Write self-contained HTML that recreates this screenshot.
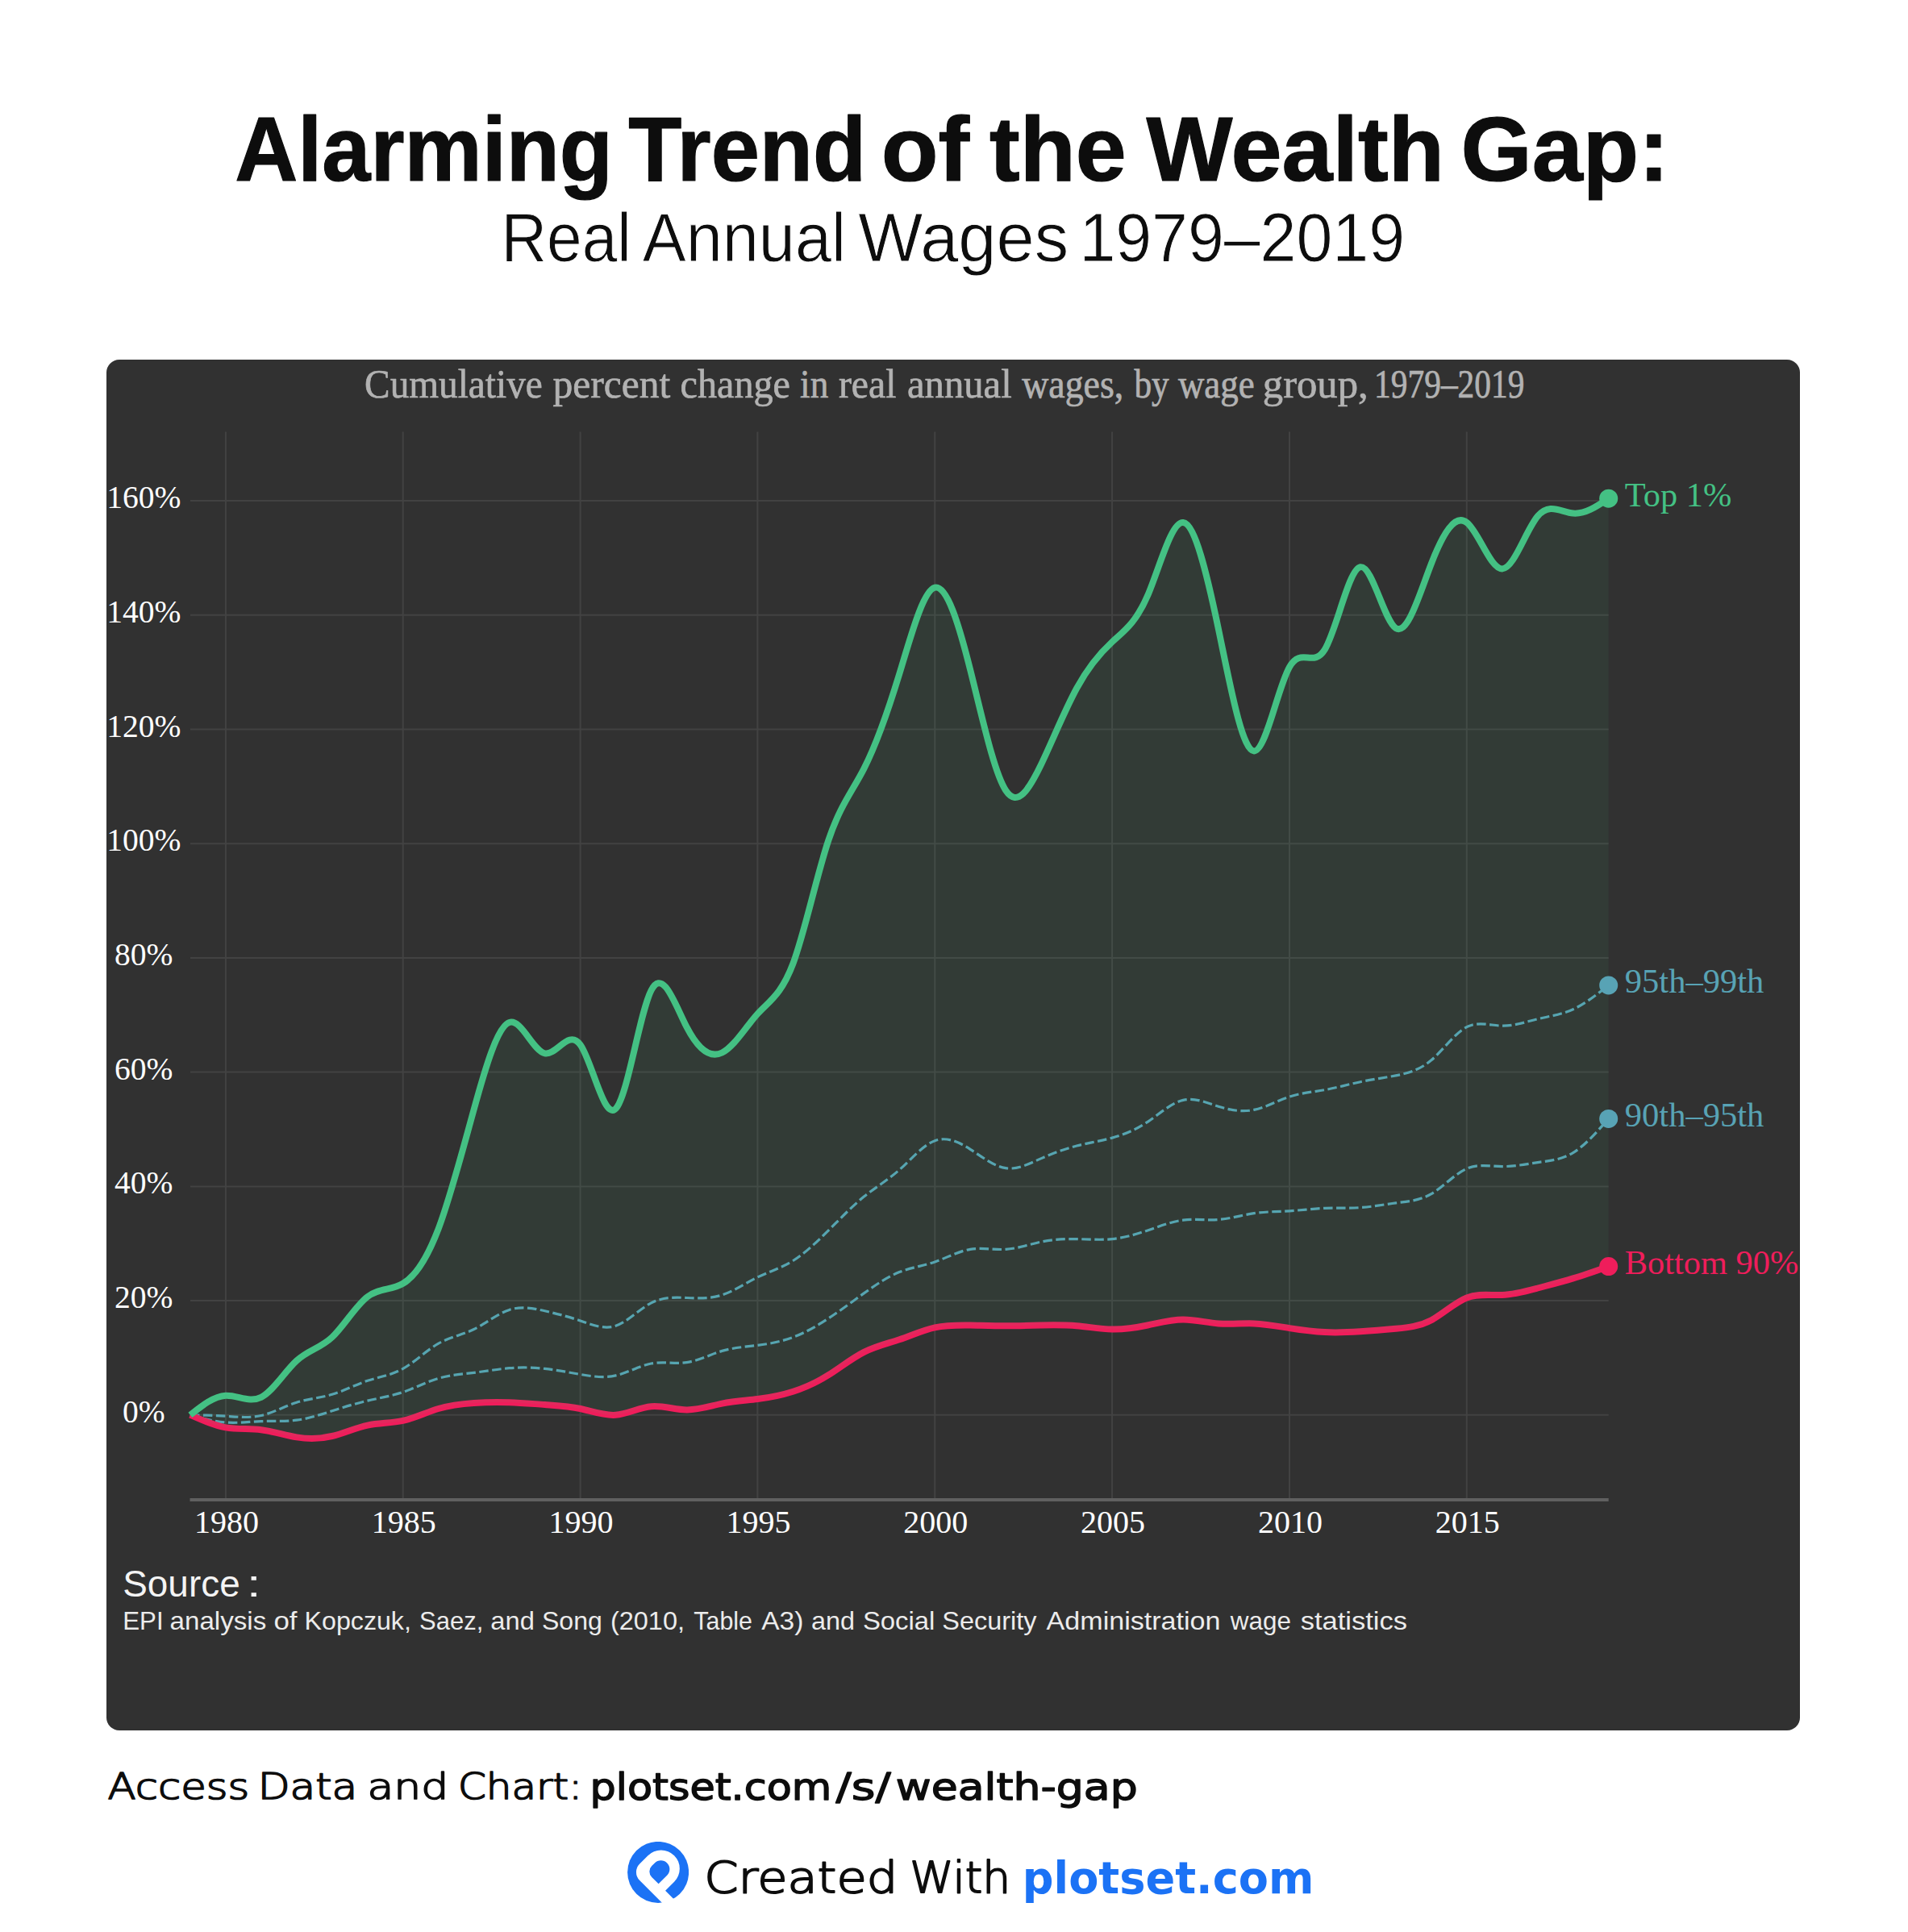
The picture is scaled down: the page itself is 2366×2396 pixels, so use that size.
<!DOCTYPE html>
<html lang="en"><head><meta charset="utf-8"><title>Alarming Trend of the Wealth Gap</title>
<style>
html,body{margin:0;padding:0;background:#fff;}
body{width:2366px;height:2396px;overflow:hidden;position:relative;}
svg{position:absolute;left:0;top:0;display:block;}
.sans{font-family:"Liberation Sans",sans-serif;}
.dj{font-family:"DejaVu Sans","Liberation Sans",sans-serif;}
.djl{font-family:"DejaVu Sans Light","DejaVu Sans","Liberation Sans",sans-serif;font-weight:200;}
.serif{font-family:"Liberation Serif",serif;}
</style></head><body>
<svg width="2366" height="2396" viewBox="0 0 2366 2396">
<rect width="2366" height="2396" fill="#ffffff"/>
<text class="sans" y="223.6" font-size="113" font-weight="700" fill="#0d0d0d" stroke="#0d0d0d" stroke-width="1.2" stroke-linejoin="round"><tspan x="291.2" textLength="468.6" lengthAdjust="spacingAndGlyphs">Alarming</tspan> <tspan x="779.3" textLength="294.9" lengthAdjust="spacingAndGlyphs">Trend</tspan> <tspan x="1092.7" textLength="109.4" lengthAdjust="spacingAndGlyphs">of</tspan> <tspan x="1227.1" textLength="169.6" lengthAdjust="spacingAndGlyphs">the</tspan> <tspan x="1421.6" textLength="369.3" lengthAdjust="spacingAndGlyphs">Wealth</tspan> <tspan x="1811.5" textLength="258.3" lengthAdjust="spacingAndGlyphs">Gap:</tspan></text>
<text class="sans" y="324.2" font-size="85.5" fill="#0d0d0d" stroke="#ffffff" stroke-width="0.9"><tspan x="621.4" textLength="161.3" lengthAdjust="spacingAndGlyphs">Real</tspan> <tspan x="796.8" textLength="252.1" lengthAdjust="spacingAndGlyphs">Annual</tspan> <tspan x="1064.3" textLength="260.8" lengthAdjust="spacingAndGlyphs">Wages</tspan> <tspan x="1338.4" textLength="403.6" lengthAdjust="spacingAndGlyphs">1979–2019</tspan></text>
<rect x="132" y="446" width="2100" height="1700" rx="16" ry="16" fill="#313131"/>
<text class="serif" y="493.2" font-size="50" fill="#b2b2b2" stroke="#b2b2b2" stroke-width="0.7" stroke-linejoin="round"><tspan x="452.1" textLength="220.7" lengthAdjust="spacingAndGlyphs">Cumulative</tspan> <tspan x="685.6" textLength="145.8" lengthAdjust="spacingAndGlyphs">percent</tspan> <tspan x="843.6" textLength="136.4" lengthAdjust="spacingAndGlyphs">change</tspan> <tspan x="992.1" textLength="35.2" lengthAdjust="spacingAndGlyphs">in</tspan> <tspan x="1039.9" textLength="71.6" lengthAdjust="spacingAndGlyphs">real</tspan> <tspan x="1124.9" textLength="129.9" lengthAdjust="spacingAndGlyphs">annual</tspan> <tspan x="1267.2" textLength="126.1" lengthAdjust="spacingAndGlyphs">wages,</tspan> <tspan x="1406.4" textLength="43.3" lengthAdjust="spacingAndGlyphs">by</tspan> <tspan x="1460.9" textLength="94.7" lengthAdjust="spacingAndGlyphs">wage</tspan> <tspan x="1565.8" textLength="130.9" lengthAdjust="spacingAndGlyphs">group,</tspan> <tspan x="1704.1" textLength="186.3" lengthAdjust="spacingAndGlyphs">1979–2019</tspan></text>
<path d="M279.9 535.5V1858M499.7 535.5V1858M719.6 535.5V1858M939.4 535.5V1858M1159.3 535.5V1858M1379.1 535.5V1858M1599.0 535.5V1858M1818.8 535.5V1858M236 1754.8H1994.7M236 1613.1H1994.7M236 1471.4H1994.7M236 1329.6H1994.7M236 1187.9H1994.7M236 1046.2H1994.7M236 904.5H1994.7M236 762.8H1994.7M236 621.0H1994.7" stroke="#ffffff" stroke-opacity="0.085" stroke-width="2" fill="none"/>
<path d="M235.5 1860H1994.7" stroke="#606060" stroke-width="4" fill="none"/>
<g class="serif" font-size="39.5" fill="#ffffff" text-anchor="middle"><text x="178.3" y="1763.8">0%</text><text x="178.3" y="1622.1">20%</text><text x="178.3" y="1480.4">40%</text><text x="178.3" y="1338.6">60%</text><text x="178.3" y="1196.9">80%</text><text x="178.3" y="1055.2">100%</text><text x="178.3" y="913.5">120%</text><text x="178.3" y="771.8">140%</text><text x="178.3" y="630.0">160%</text></g>
<g class="serif" font-size="40" fill="#ffffff" text-anchor="middle"><text x="280.9" y="1900.8">1980</text><text x="500.7" y="1900.8">1985</text><text x="720.6" y="1900.8">1990</text><text x="940.4" y="1900.8">1995</text><text x="1160.3" y="1900.8">2000</text><text x="1380.1" y="1900.8">2005</text><text x="1600.0" y="1900.8">2010</text><text x="1819.8" y="1900.8">2015</text></g>
<path d="M235.9 1754.8C250.6 1758.9 265.2 1763.0 279.9 1764.0C294.5 1765.1 309.2 1763.1 323.8 1762.6C338.5 1762.1 353.2 1763.1 367.8 1761.2C382.5 1759.3 397.1 1754.5 411.8 1749.8C426.4 1745.1 441.1 1740.5 455.8 1737.1C470.4 1733.7 485.1 1731.4 499.7 1726.5C514.4 1721.5 529.0 1713.8 543.7 1709.4C558.3 1705.1 573.0 1704.2 587.7 1702.4C602.3 1700.6 617.0 1697.9 631.6 1696.7C646.3 1695.5 660.9 1695.8 675.6 1697.4C690.3 1699.0 704.9 1701.9 719.6 1704.5C734.2 1707.0 748.9 1709.2 763.5 1705.9C778.2 1702.6 792.9 1693.7 807.5 1691.0C822.2 1688.3 836.8 1691.7 851.5 1689.6C866.1 1687.5 880.8 1679.8 895.4 1675.4C910.1 1671.1 924.8 1670.2 939.4 1668.4C954.1 1666.5 968.7 1663.9 983.4 1658.4C998.0 1653.0 1012.7 1644.7 1027.4 1635.0C1042.0 1625.4 1056.7 1614.3 1071.3 1603.9C1086.0 1593.4 1100.6 1583.5 1115.3 1577.6C1130.0 1571.8 1144.6 1569.9 1159.3 1564.9C1173.9 1559.9 1188.6 1551.7 1203.2 1549.3C1217.9 1546.9 1232.6 1550.3 1247.2 1549.3C1261.9 1548.4 1276.5 1543.1 1291.2 1540.1C1305.8 1537.1 1320.5 1536.3 1335.2 1536.6C1349.8 1536.8 1364.5 1538.0 1379.1 1536.6C1393.8 1535.1 1408.4 1530.9 1423.1 1525.9C1437.7 1520.9 1452.4 1515.0 1467.1 1513.2C1481.7 1511.3 1496.4 1513.6 1511.0 1512.5C1525.7 1511.3 1540.3 1506.8 1555.0 1504.7C1569.7 1502.5 1584.3 1502.7 1599.0 1501.8C1613.6 1500.9 1628.3 1498.9 1642.9 1498.3C1657.6 1497.7 1672.3 1498.6 1686.9 1497.6C1701.6 1496.6 1716.2 1493.8 1730.9 1491.9C1745.5 1490.0 1760.2 1489.1 1774.9 1480.6C1789.5 1472.0 1804.2 1455.8 1818.8 1449.4C1833.5 1443.0 1848.1 1446.4 1862.8 1446.6C1877.4 1446.7 1892.1 1443.7 1906.8 1441.6C1921.4 1439.5 1936.1 1438.4 1950.7 1429.6C1965.4 1420.7 1980.0 1404.0 1994.7 1387.4" fill="none" stroke="#58a3b5" stroke-width="3.2" stroke-dasharray="11.5 4.5"/>
<path d="M235.9 1754.8C250.6 1755.0 265.2 1755.3 279.9 1756.2C294.5 1757.2 309.2 1758.8 323.8 1755.5C338.5 1752.2 353.2 1743.8 367.8 1739.2C382.5 1734.6 397.1 1733.7 411.8 1729.3C426.4 1724.9 441.1 1717.1 455.8 1712.3C470.4 1707.5 485.1 1705.6 499.7 1697.4C514.4 1689.2 529.0 1674.6 543.7 1666.2C558.3 1657.9 573.0 1655.7 587.7 1648.5C602.3 1641.3 617.0 1629.1 631.6 1624.4C646.3 1619.7 660.9 1622.5 675.6 1625.8C690.3 1629.1 704.9 1632.9 719.6 1637.9C734.2 1642.9 748.9 1649.1 763.5 1644.3C778.2 1639.4 792.9 1623.5 807.5 1615.9C822.2 1608.3 836.8 1608.9 851.5 1609.5C866.1 1610.1 880.8 1610.7 895.4 1606.0C910.1 1601.3 924.8 1591.2 939.4 1584.0C954.1 1576.9 968.7 1572.6 983.4 1563.5C998.0 1554.4 1012.7 1540.5 1027.4 1525.9C1042.0 1511.3 1056.7 1496.0 1071.3 1484.1C1086.0 1472.2 1100.6 1463.8 1115.3 1450.8C1130.0 1437.8 1144.6 1420.1 1159.3 1414.7C1173.9 1409.2 1188.6 1416.0 1203.2 1425.3C1217.9 1434.6 1232.6 1446.6 1247.2 1448.7C1261.9 1450.8 1276.5 1443.1 1291.2 1436.6C1305.8 1430.1 1320.5 1424.8 1335.2 1421.0C1349.8 1417.3 1364.5 1415.2 1379.1 1411.1C1393.8 1407.1 1408.4 1401.1 1423.1 1391.3C1437.7 1381.5 1452.4 1367.8 1467.1 1364.4C1481.7 1360.9 1496.4 1367.5 1511.0 1372.2C1525.7 1376.8 1540.3 1379.4 1555.0 1376.4C1569.7 1373.4 1584.3 1364.9 1599.0 1360.1C1613.6 1355.3 1628.3 1354.2 1642.9 1351.6C1657.6 1349.0 1672.3 1344.7 1686.9 1341.7C1701.6 1338.6 1716.2 1336.7 1730.9 1333.9C1745.5 1331.0 1760.2 1327.2 1774.9 1314.8C1789.5 1302.3 1804.2 1281.3 1818.8 1273.7C1833.5 1266.1 1848.1 1271.9 1862.8 1272.2C1877.4 1272.5 1892.1 1267.3 1906.8 1263.7C1921.4 1260.2 1936.1 1258.4 1950.7 1251.7C1965.4 1245.0 1980.0 1233.5 1994.7 1221.9" fill="none" stroke="#58a3b5" stroke-width="3.2" stroke-dasharray="11.5 4.5"/>
<path d="M235.9 1754.8C250.6 1761.3 265.2 1767.9 279.9 1770.4C294.5 1772.9 309.2 1771.4 323.8 1773.2C338.5 1775.0 353.2 1780.0 367.8 1782.4C382.5 1784.8 397.1 1784.6 411.8 1781.0C426.4 1777.5 441.1 1770.6 455.8 1767.6C470.4 1764.5 485.1 1765.1 499.7 1761.9C514.4 1758.6 529.0 1751.4 543.7 1747.0C558.3 1742.6 573.0 1740.9 587.7 1739.9C602.3 1738.9 617.0 1738.7 631.6 1739.2C646.3 1739.7 660.9 1741.0 675.6 1742.0C690.3 1743.1 704.9 1743.8 719.6 1747.0C734.2 1750.2 748.9 1756.0 763.5 1754.8C778.2 1753.6 792.9 1745.5 807.5 1744.2C822.2 1742.8 836.8 1748.2 851.5 1748.4C866.1 1748.6 880.8 1743.6 895.4 1740.6C910.1 1737.7 924.8 1736.8 939.4 1735.0C954.1 1733.2 968.7 1730.4 983.4 1725.7C998.0 1721.1 1012.7 1714.4 1027.4 1705.2C1042.0 1696.0 1056.7 1684.3 1071.3 1676.9C1086.0 1669.4 1100.6 1666.2 1115.3 1661.3C1130.0 1656.3 1144.6 1649.6 1159.3 1646.4C1173.9 1643.1 1188.6 1643.3 1203.2 1643.5C1217.9 1643.8 1232.6 1644.3 1247.2 1644.3C1261.9 1644.3 1276.5 1643.9 1291.2 1643.5C1305.8 1643.2 1320.5 1643.0 1335.2 1644.3C1349.8 1645.5 1364.5 1648.2 1379.1 1648.5C1393.8 1648.8 1408.4 1646.6 1423.1 1643.5C1437.7 1640.5 1452.4 1636.5 1467.1 1636.5C1481.7 1636.4 1496.4 1640.3 1511.0 1641.4C1525.7 1642.5 1540.3 1640.9 1555.0 1641.4C1569.7 1642.0 1584.3 1644.7 1599.0 1647.1C1613.6 1649.4 1628.3 1651.4 1642.9 1652.1C1657.6 1652.8 1672.3 1652.2 1686.9 1651.3C1701.6 1650.4 1716.2 1649.2 1730.9 1647.8C1745.5 1646.4 1760.2 1645.0 1774.9 1637.2C1789.5 1629.4 1804.2 1615.2 1818.8 1609.5C1833.5 1603.8 1848.1 1606.6 1862.8 1606.0C1877.4 1605.4 1892.1 1601.4 1906.8 1597.5C1921.4 1593.6 1936.1 1589.9 1950.7 1585.4C1965.4 1581.0 1980.0 1575.8 1994.7 1570.6" fill="none" stroke="#ef1d5b" stroke-width="8" stroke-linecap="butt"/>
<path d="M235.9 1754.8C250.6 1743.1 265.2 1731.5 279.9 1730.7C294.5 1730.0 309.2 1740.1 323.8 1732.8C338.5 1725.6 353.2 1700.8 367.8 1687.5C382.5 1674.1 397.1 1672.2 411.8 1658.4C426.4 1644.7 441.1 1619.2 455.8 1608.1C470.4 1597.1 485.1 1600.5 499.7 1591.8C514.4 1583.2 529.0 1562.4 543.7 1523.8C558.3 1485.2 573.0 1428.8 587.7 1375.7C602.3 1322.6 617.0 1272.9 631.6 1268.0C646.3 1263.1 660.9 1303.1 675.6 1306.3C690.3 1309.4 704.9 1275.6 719.6 1295.6C734.2 1315.7 748.9 1389.7 763.5 1375.0C778.2 1360.3 792.9 1257.0 807.5 1228.3C822.2 1199.6 836.8 1245.4 851.5 1273.7C866.1 1301.9 880.8 1312.7 895.4 1305.5C910.1 1298.4 924.8 1273.5 939.4 1257.4C954.1 1241.2 968.7 1234.0 983.4 1195.0C998.0 1156.1 1012.7 1085.5 1027.4 1041.9C1042.0 998.4 1056.7 982.0 1071.3 953.4C1086.0 924.7 1100.6 883.8 1115.3 835.7C1130.0 787.7 1144.6 732.5 1159.3 728.7C1173.9 725.0 1188.6 772.5 1203.2 830.8C1217.9 889.0 1232.6 958.0 1247.2 980.3C1261.9 1002.6 1276.5 978.3 1291.2 947.7C1305.8 917.1 1320.5 880.4 1335.2 853.5C1349.8 826.6 1364.5 809.5 1379.1 796.1C1393.8 782.6 1408.4 772.7 1423.1 738.7C1437.7 704.7 1452.4 646.6 1467.1 648.0C1481.7 649.3 1496.4 710.1 1511.0 780.5C1525.7 850.9 1540.3 930.9 1555.0 931.4C1569.7 931.9 1584.3 852.9 1599.0 827.2C1613.6 801.5 1628.3 829.1 1642.9 805.3C1657.6 781.4 1672.3 706.1 1686.9 703.2C1701.6 700.4 1716.2 769.9 1730.9 779.1C1745.5 788.2 1760.2 736.8 1774.9 699.0C1789.5 661.1 1804.2 636.8 1818.8 648.0C1833.5 659.1 1848.1 705.7 1862.8 705.4C1877.4 705.0 1892.1 657.6 1906.8 640.2C1921.4 622.8 1936.1 635.3 1950.7 636.6C1965.4 638.0 1980.0 628.1 1994.7 618.2" fill="none" stroke="#44c184" stroke-width="8" stroke-linecap="butt"/>
<path d="M235.9 1754.8C250.6 1743.1 265.2 1731.5 279.9 1730.7C294.5 1730.0 309.2 1740.1 323.8 1732.8C338.5 1725.6 353.2 1700.8 367.8 1687.5C382.5 1674.1 397.1 1672.2 411.8 1658.4C426.4 1644.7 441.1 1619.2 455.8 1608.1C470.4 1597.1 485.1 1600.5 499.7 1591.8C514.4 1583.2 529.0 1562.4 543.7 1523.8C558.3 1485.2 573.0 1428.8 587.7 1375.7C602.3 1322.6 617.0 1272.9 631.6 1268.0C646.3 1263.1 660.9 1303.1 675.6 1306.3C690.3 1309.4 704.9 1275.6 719.6 1295.6C734.2 1315.7 748.9 1389.7 763.5 1375.0C778.2 1360.3 792.9 1257.0 807.5 1228.3C822.2 1199.6 836.8 1245.4 851.5 1273.7C866.1 1301.9 880.8 1312.7 895.4 1305.5C910.1 1298.4 924.8 1273.5 939.4 1257.4C954.1 1241.2 968.7 1234.0 983.4 1195.0C998.0 1156.1 1012.7 1085.5 1027.4 1041.9C1042.0 998.4 1056.7 982.0 1071.3 953.4C1086.0 924.7 1100.6 883.8 1115.3 835.7C1130.0 787.7 1144.6 732.5 1159.3 728.7C1173.9 725.0 1188.6 772.5 1203.2 830.8C1217.9 889.0 1232.6 958.0 1247.2 980.3C1261.9 1002.6 1276.5 978.3 1291.2 947.7C1305.8 917.1 1320.5 880.4 1335.2 853.5C1349.8 826.6 1364.5 809.5 1379.1 796.1C1393.8 782.6 1408.4 772.7 1423.1 738.7C1437.7 704.7 1452.4 646.6 1467.1 648.0C1481.7 649.3 1496.4 710.1 1511.0 780.5C1525.7 850.9 1540.3 930.9 1555.0 931.4C1569.7 931.9 1584.3 852.9 1599.0 827.2C1613.6 801.5 1628.3 829.1 1642.9 805.3C1657.6 781.4 1672.3 706.1 1686.9 703.2C1701.6 700.4 1716.2 769.9 1730.9 779.1C1745.5 788.2 1760.2 736.8 1774.9 699.0C1789.5 661.1 1804.2 636.8 1818.8 648.0C1833.5 659.1 1848.1 705.7 1862.8 705.4C1877.4 705.0 1892.1 657.6 1906.8 640.2C1921.4 622.8 1936.1 635.3 1950.7 636.6C1965.4 638.0 1980.0 628.1 1994.7 618.2L1994.7 1570.6C1980.0 1575.8 1965.4 1581.0 1950.7 1585.4C1936.1 1589.9 1921.4 1593.6 1906.8 1597.5C1892.1 1601.4 1877.4 1605.4 1862.8 1606.0C1848.1 1606.6 1833.5 1603.8 1818.8 1609.5C1804.2 1615.2 1789.5 1629.4 1774.9 1637.2C1760.2 1645.0 1745.5 1646.4 1730.9 1647.8C1716.2 1649.2 1701.6 1650.4 1686.9 1651.3C1672.3 1652.2 1657.6 1652.8 1642.9 1652.1C1628.3 1651.4 1613.6 1649.4 1599.0 1647.1C1584.3 1644.7 1569.7 1642.0 1555.0 1641.4C1540.3 1640.9 1525.7 1642.5 1511.0 1641.4C1496.4 1640.3 1481.7 1636.4 1467.1 1636.5C1452.4 1636.5 1437.7 1640.5 1423.1 1643.5C1408.4 1646.6 1393.8 1648.8 1379.1 1648.5C1364.5 1648.2 1349.8 1645.5 1335.2 1644.3C1320.5 1643.0 1305.8 1643.2 1291.2 1643.5C1276.5 1643.9 1261.9 1644.3 1247.2 1644.3C1232.6 1644.3 1217.9 1643.8 1203.2 1643.5C1188.6 1643.3 1173.9 1643.1 1159.3 1646.4C1144.6 1649.6 1130.0 1656.3 1115.3 1661.3C1100.6 1666.2 1086.0 1669.4 1071.3 1676.9C1056.7 1684.3 1042.0 1696.0 1027.4 1705.2C1012.7 1714.4 998.0 1721.1 983.4 1725.7C968.7 1730.4 954.1 1733.2 939.4 1735.0C924.8 1736.8 910.1 1737.7 895.4 1740.6C880.8 1743.6 866.1 1748.6 851.5 1748.4C836.8 1748.2 822.2 1742.8 807.5 1744.2C792.9 1745.5 778.2 1753.6 763.5 1754.8C748.9 1756.0 734.2 1750.2 719.6 1747.0C704.9 1743.8 690.3 1743.1 675.6 1742.0C660.9 1741.0 646.3 1739.7 631.6 1739.2C617.0 1738.7 602.3 1738.9 587.7 1739.9C573.0 1740.9 558.3 1742.6 543.7 1747.0C529.0 1751.4 514.4 1758.6 499.7 1761.9C485.1 1765.1 470.4 1764.5 455.8 1767.6C441.1 1770.6 426.4 1777.5 411.8 1781.0C397.1 1784.6 382.5 1784.8 367.8 1782.4C353.2 1780.0 338.5 1775.0 323.8 1773.2C309.2 1771.4 294.5 1772.9 279.9 1770.4C265.2 1767.9 250.6 1761.3 235.9 1754.8Z" fill="#44c184" fill-opacity="0.07"/>
<circle cx="1994.7" cy="618.2" r="11.5" fill="#44c184"/><text class="serif" x="2014.8" y="627.6" font-size="42" fill="#44c184" textLength="132.5" lengthAdjust="spacingAndGlyphs">Top 1%</text>
<circle cx="1994.7" cy="1221.9" r="11.5" fill="#58a3b5"/><text class="serif" x="2014.8" y="1231.3" font-size="42" fill="#58a3b5" textLength="172.5" lengthAdjust="spacingAndGlyphs">95th–99th</text>
<circle cx="1994.7" cy="1387.4" r="11.5" fill="#58a3b5"/><text class="serif" x="2014.8" y="1396.8" font-size="42" fill="#58a3b5" textLength="172.5" lengthAdjust="spacingAndGlyphs">90th–95th</text>
<circle cx="1994.7" cy="1570.6" r="11.5" fill="#ef1d5b"/><text class="serif" x="2014.8" y="1580.0" font-size="42" fill="#ef1d5b" textLength="215.5" lengthAdjust="spacingAndGlyphs">Bottom 90%</text>
<text class="sans" y="1979.6" font-size="45.5" fill="#f4f4f4"><tspan x="152.2" textLength="145.5" lengthAdjust="spacingAndGlyphs">Source</tspan> <tspan x="305.7" textLength="18.0" lengthAdjust="spacingAndGlyphs">:</tspan></text>
<text class="sans" y="2021.3" font-size="31.5" fill="#ececec"><tspan x="152.2" textLength="50.4" lengthAdjust="spacingAndGlyphs">EPI</tspan> <tspan x="210.6" textLength="119.7" lengthAdjust="spacingAndGlyphs">analysis</tspan> <tspan x="339.4" textLength="29.1" lengthAdjust="spacingAndGlyphs">of</tspan> <tspan x="377.6" textLength="132.3" lengthAdjust="spacingAndGlyphs">Kopczuk,</tspan> <tspan x="520.1" textLength="79.2" lengthAdjust="spacingAndGlyphs">Saez,</tspan> <tspan x="608.3" textLength="54.5" lengthAdjust="spacingAndGlyphs">and</tspan> <tspan x="672.0" textLength="74.8" lengthAdjust="spacingAndGlyphs">Song</tspan> <tspan x="756.9" textLength="92.1" lengthAdjust="spacingAndGlyphs">(2010,</tspan> <tspan x="860.3" textLength="72.7" lengthAdjust="spacingAndGlyphs">Table</tspan> <tspan x="944.2" textLength="52.1" lengthAdjust="spacingAndGlyphs">A3)</tspan> <tspan x="1006.1" textLength="54.0" lengthAdjust="spacingAndGlyphs">and</tspan> <tspan x="1069.9" textLength="89.5" lengthAdjust="spacingAndGlyphs">Social</tspan> <tspan x="1168.3" textLength="117.1" lengthAdjust="spacingAndGlyphs">Security</tspan> <tspan x="1297.6" textLength="215.9" lengthAdjust="spacingAndGlyphs">Administration</tspan> <tspan x="1525.7" textLength="75.2" lengthAdjust="spacingAndGlyphs">wage</tspan> <tspan x="1612.7" textLength="132.3" lengthAdjust="spacingAndGlyphs">statistics</tspan></text>
<text class="djl" y="2230.6" font-size="44.5" font-weight="200" fill="#0d0d0d" stroke="#0d0d0d" stroke-width="1.7" stroke-linejoin="round"><tspan x="133.6" textLength="175.6" lengthAdjust="spacingAndGlyphs">Access</tspan> <tspan x="319.7" textLength="123.5" lengthAdjust="spacingAndGlyphs">Data</tspan> <tspan x="455.4" textLength="100.9" lengthAdjust="spacingAndGlyphs">and</tspan> <tspan x="568.0" textLength="154.0" lengthAdjust="spacingAndGlyphs">Chart:</tspan></text>
<text class="dj" y="2231.5" font-size="46.5" fill="#0d0d0d" stroke="#0d0d0d" stroke-width="1.4" stroke-linejoin="round"><tspan x="731.6" textLength="299.6" lengthAdjust="spacingAndGlyphs">plotset.com</tspan> <tspan x="1036.5" textLength="68.1" lengthAdjust="spacingAndGlyphs">/s/</tspan> <tspan x="1110.8" textLength="299.9" lengthAdjust="spacingAndGlyphs">wealth-gap</tspan></text>
<svg x="778.1" y="2283.9" width="76" height="76" viewBox="155 170 1450 1450">
<circle cx="880" cy="895" r="725" fill="#1b72f5"/>
<path fill="#ffffff" d="M443 695L639 499A440 440 0 0 1 1261 499A440 440 0 0 1 1261 1121L1051 1331L1400 1680L1100 1745L443 1088A278 278 0 0 1 443 695Z"/>
<path fill="#1b72f5" d="M890 1170L729.7 1009.7A187 187 0 0 1 729.7 745.3L799 675.6A207 207 0 0 1 1092 675.6A207 207 0 0 1 1092 968.4Z"/>
</svg>
<text class="djl" y="2347" font-size="53.5" font-weight="200" fill="#0d0d0d" stroke="#0d0d0d" stroke-width="1.9" stroke-linejoin="round"><tspan x="873.2" textLength="240.0" lengthAdjust="spacingAndGlyphs">Created</tspan> <tspan x="1128.3" textLength="124.9" lengthAdjust="spacingAndGlyphs">With</tspan></text>
<text class="dj" y="2347.8" font-size="56" font-weight="700" fill="#1b72f5"><tspan x="1267.8" textLength="361.6" lengthAdjust="spacingAndGlyphs">plotset.com</tspan></text>
</svg>
</body></html>
